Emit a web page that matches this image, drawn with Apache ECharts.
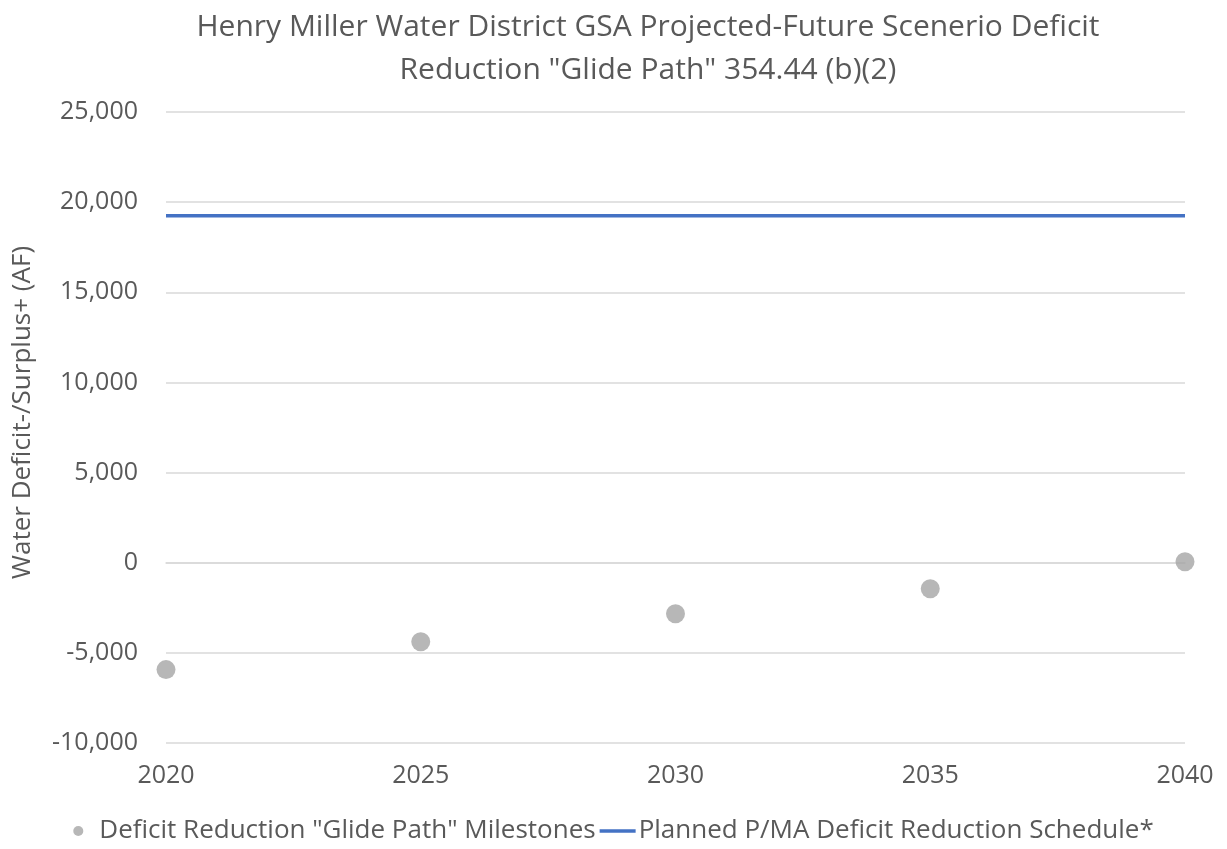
<!DOCTYPE html>
<html>
<head>
<meta charset="utf-8">
<script src="https://cdn.jsdelivr.net/npm/echarts@6/dist/echarts.min.js"></script>
<style>
html, body { margin: 0; padding: 0; background: #fff; }
#chart { width: 1227px; height: 849px; }
</style>
</head>
<body>
<div id="chart"></div>
<script>
var milestoneYears = [2020, 2025, 2030, 2035, 2040];
var milestoneValues = [-5930, -4380, -2830, -1440, 50];
var scheduleYears = [2020, 2040];
var scheduleValues = [19250, 19250];

var milestoneData = [];
for (var i = 0; i < milestoneYears.length; ++i) {
    milestoneData.push([milestoneYears[i], milestoneValues[i]]);
}
var scheduleData = [];
for (var j = 0; j < scheduleYears.length; ++j) {
    scheduleData.push([scheduleYears[j], scheduleValues[j]]);
}

var font = '"Open Sans", "Noto Sans", sans-serif';
var chart = echarts.init(document.getElementById('chart'));
chart.setOption({
    animation: false,
    // title drawn as graphic text: the original is centred a bit right of the page middle
    graphic: [{
        type: 'text',
        x: 648,
        y: 6,
        style: {
            text: 'Henry Miller Water District GSA Projected-Future Scenerio Deficit\nReduction "Glide Path" 354.44 (b)(2)',
            fill: '#595959',
            font: 'normal 30px ' + font,
            lineHeight: 43,
            align: 'center',
            verticalAlign: 'top'
        }
    }],
    legend: {
        top: 813,
        left: 'center',
        padding: [5, 0, 5, 16],
        itemGap: 4,
        itemWidth: 36,
        itemHeight: 10,
        textStyle: { color: '#595959', fontFamily: font, fontSize: 26, padding: [0, 0, 0, -2] },
        data: [
            { name: 'Deficit Reduction "Glide Path" Milestones', icon: 'circle' },
            { name: 'Planned P/MA Deficit Reduction Schedule*', icon: 'path://M0,0 L30,0 L30,3 L0,3 Z' }
        ]
    },
    grid: { left: 166, right: 42, top: 112, bottom: 106 },
    xAxis: {
        type: 'value',
        min: 2020,
        max: 2040,
        interval: 5,
        axisLine: { show: true, lineStyle: { color: '#d9d9d9', width: 1.5 } },
        axisTick: { show: false },
        splitLine: { show: false },
        axisLabel: {
            color: '#595959', fontFamily: font, fontSize: 25, margin: 20,
            formatter: function (v) { return String(v); }
        }
    },
    yAxis: {
        type: 'value',
        min: -10000,
        max: 25000,
        interval: 5000,
        name: 'Water Deficit-/Surplus+ (AF)',
        nameLocation: 'middle',
        nameGap: 130,
        nameTextStyle: { color: '#595959', fontFamily: font, fontSize: 26, padding: [0, 0, 0, 30] },
        axisLine: { show: false },
        axisTick: { show: false },
        splitLine: { lineStyle: { color: '#d9d9d9', width: 1.5 } },
        axisLabel: {
            color: '#595959', fontFamily: font, fontSize: 25, margin: 28,
            formatter: function (v) { return v.toLocaleString('en-US'); }
        }
    },
    series: [{
        name: 'Deficit Reduction "Glide Path" Milestones',
        type: 'scatter',
        data: milestoneData,
        symbolSize: 19,
        itemStyle: { color: '#a5a5a5' }
    }, {
        name: 'Planned P/MA Deficit Reduction Schedule*',
        type: 'line',
        data: scheduleData,
        showSymbol: false,
        symbol: 'none',
        lineStyle: { color: '#4472c4', width: 3.5 },
        itemStyle: { color: '#4472c4' }
    }]
});
</script>
</body>
</html>
